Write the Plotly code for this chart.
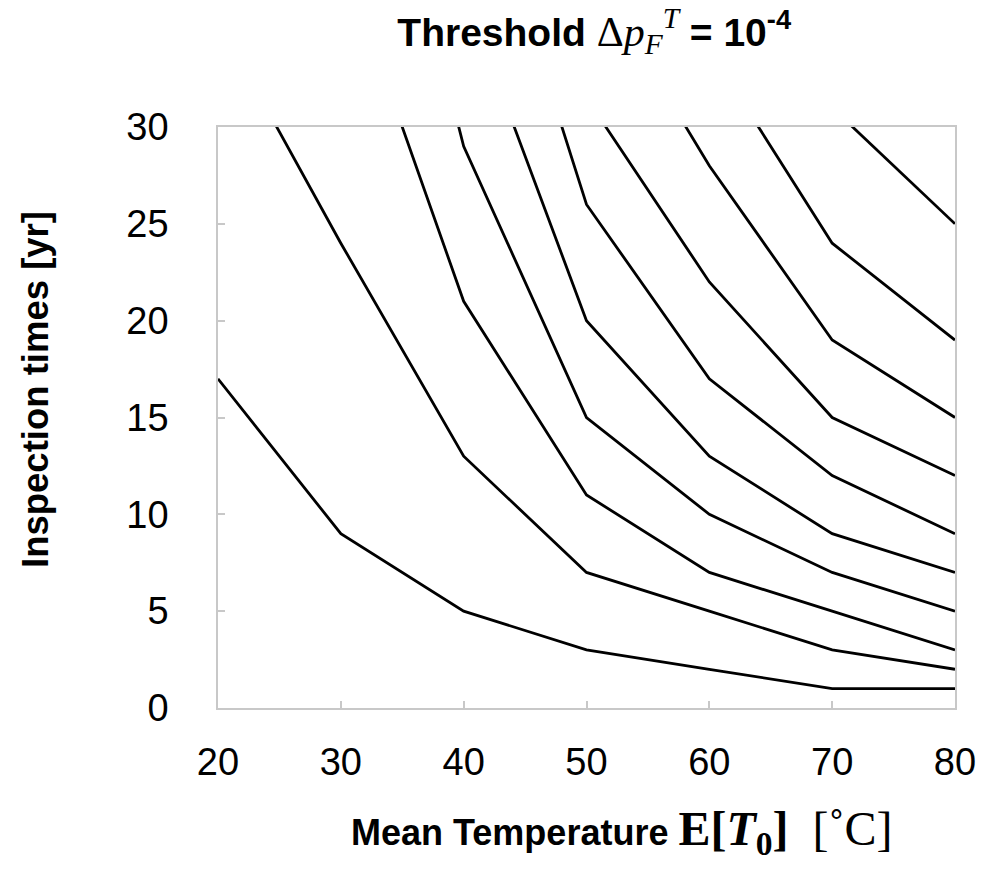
import plotly.graph_objects as go

# Mean temperature E[T0] in deg C
temperature = [20, 30, 40, 50, 60, 70, 80]

# Inspection times [yr] for successive inspections (values above 30 are off-chart estimates)
insp_1 = [17, 9, 5, 3, 2, 1, 1]
insp_2 = [35.5, 24, 13, 7, 5, 3, 2]
insp_3 = [None, 39, 21, 11, 7, 5, 3]
insp_4 = [None, 54, 29, 15, 10, 7, 5]
insp_5 = [None, None, 37, 20, 13, 9, 7]
insp_6 = [None, None, 46, 26, 17, 12, 9]
insp_7 = [None, None, None, 31.5, 22, 15, 12]
insp_8 = [None, None, None, 38.5, 28, 19, 15]
insp_9 = [None, None, None, None, 34, 24, 19]
insp_10 = [None, None, None, None, None, 31, 25]

series = [insp_1, insp_2, insp_3, insp_4, insp_5, insp_6, insp_7, insp_8, insp_9, insp_10]

x_ticks = [20, 30, 40, 50, 60, 70, 80]
y_ticks = [0, 5, 10, 15, 20, 25, 30]

SANS = "Liberation Sans, Arial, Helvetica, sans-serif"

fig = go.Figure()
for i, ys in enumerate(series):
    fig.add_trace(go.Scatter(
        x=temperature, y=ys, mode="lines",
        line=dict(color="black", width=2.8),
        name=f"Inspection {i+1}", showlegend=False, connectgaps=False,
    ))

title_text = (
    "<b>Threshold </b>"
    "<span style=\"font-family:Liberation Serif;font-size:42px\">Δ<i>p<sub>F</sub><sup>T</sup></i></span>"
    "<b> = 10<sup>-4</sup></b>"
)

xtitle_text = (
    "<b>Mean Temperature </b>"
    "<span style=\"font-family:Liberation Serif;font-size:48px\"><b>E[<i>T</i><sub>0</sub>]</b>\u00a0 [˚C]</span>"
)

fig.update_layout(
    width=997, height=869,
    margin=dict(l=218, r=42, t=127, b=161),
    paper_bgcolor="white", plot_bgcolor="white",
    font=dict(family=SANS, color="black", size=38),
    title=dict(
        text=title_text,
        font=dict(family=SANS, size=39, color="black"),
        x=0.596, xref="container", xanchor="center",
        y=1 - 32 / 869, yref="container", yanchor="middle",
    ),
    xaxis=dict(
        range=[20, 80], tickvals=x_ticks, ticktext=[str(v) for v in x_ticks],
        showgrid=False, zeroline=False,
        showline=True, linecolor="#c8c8c8", linewidth=1.5, mirror=True,
        ticks="inside", ticklen=7, tickcolor="#c8c8c8", tickwidth=1.5,
        tickfont=dict(family=SANS, size=38),
        ticklabelstandoff=20,
    ),
    yaxis=dict(
        range=[0, 30], tickvals=y_ticks, ticktext=[str(v) for v in y_ticks],
        showgrid=False, zeroline=False,
        showline=True, linecolor="#c8c8c8", linewidth=1.5, mirror=True,
        ticks="inside", ticklen=7, tickcolor="#c8c8c8", tickwidth=1.5,
        tickfont=dict(family=SANS, size=38),
        ticklabelstandoff=40,
    ),
    annotations=[
        dict(
            text=xtitle_text, xref="paper", yref="paper",
            x=(622 - 218) / 737, y=(708 - 832) / 581,
            xanchor="center", yanchor="middle", showarrow=False,
            font=dict(family=SANS, size=36, color="black"),
        ),
        dict(
            text="<b>Inspection times [yr]</b>", xref="paper", yref="paper",
            x=(35 - 218) / 737, y=(708 - 390) / 581, textangle=-90,
            xanchor="center", yanchor="middle", showarrow=False,
            font=dict(family=SANS, size=36.5, color="black"),
        ),
    ],
)

fig.write_html("out.html")
